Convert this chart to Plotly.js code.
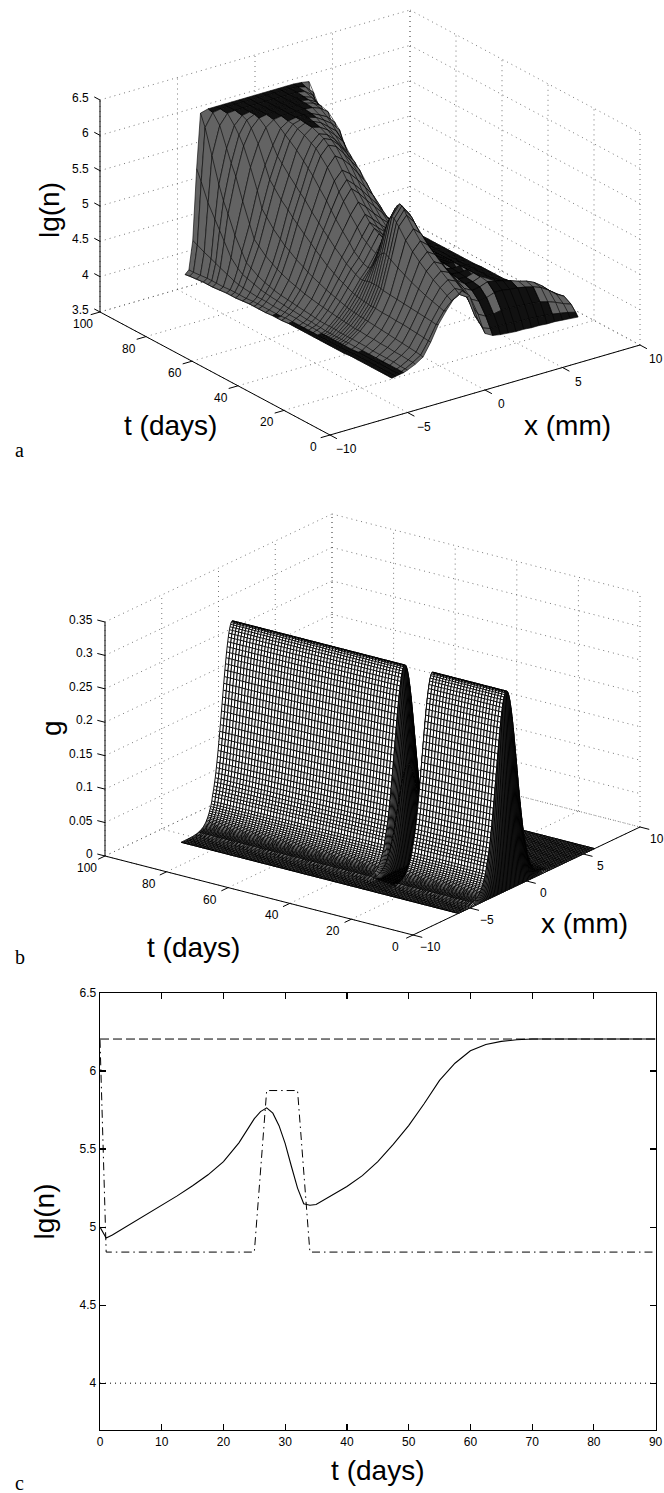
<!DOCTYPE html>
<html><head><meta charset="utf-8"><script src="https://cdn.plot.ly/plotly-3.0.0.min.js"></script></head>
<body style="margin:0;background:#fff"><div id="g" style="width:664px;height:1493px"></div>
<script>
// ---------- panel a data (lg n x 100, rows = t, columns = x) ----------
var xA=[-6,-5.75,-5.5,-5.25,-5,-4.5,-4,-3.5,-3,-2.5,-2,-1.5,-1,-.5,0,.5,1,1.5,2,2.5,3,3.5,4,4.5,5,5.5,6];
var tA=[0,1,3,6,9,12,15,18,21,24,25,26,27,28,29,30,31,32,33,34,36,38,40,42,45,48,50,52,55,58,60,62,65,68,70,72,75,78,80,82,85,88,90];
var lgnA=[
[405,406,407,408,410,415,422,440,462,478,492,500,490,455,430,424,422,421,420,420,419,419,418,418,417,416,415],
[405,406,407,408,410,416,423,440,460,476,487,493,486,456,436,432,432,432,431,430,430,429,428,427,425,423,420],
[405,406,407,408,410,416,424,441,461,478,491,498,492,470,452,446,446,448,448,447,446,445,444,441,437,432,428],
[405,406,407,408,411,417,425,442,462,481,497,505,500,484,468,462,464,468,468,466,465,463,460,456,449,440,434],
[405,406,407,408,411,417,426,443,463,484,503,512,507,492,478,472,474,478,476,473,470,466,463,458,450,440,432],
[405,406,407,408,411,418,427,444,464,488,510,520,514,498,484,476,476,480,474,468,462,456,450,444,437,430,424],
[405,406,407,408,411,418,428,444,465,492,518,529,522,505,488,478,477,480,470,458,450,444,438,433,428,424,420],
[405,406,407,408,412,419,429,445,466,497,527,539,530,512,492,480,478,480,466,450,440,434,430,426,423,420,418],
[404,405,406,408,412,419,430,445,467,502,538,551,541,520,497,482,479,480,462,444,434,428,425,423,420,418,416],
[404,405,406,408,412,420,431,446,468,508,552,565,552,528,500,484,480,480,458,438,430,425,422,420,418,416,415],
[404,405,406,408,412,420,431,446,469,510,556,571,557,531,502,485,480,480,456,436,428,424,421,419,417,416,415],
[404,405,406,408,412,420,432,446,470,512,560,575,560,533,503,485,480,480,455,435,427,423,421,419,417,416,415],
[404,405,406,408,412,420,432,446,470,513,561,576,561,533,503,485,480,480,454,434,426,423,420,419,417,416,415],
[404,405,406,408,412,421,432,447,470,510,556,572,557,529,500,484,480,480,453,433,426,422,420,418,417,416,415],
[404,405,406,408,412,421,433,447,470,506,548,566,550,523,497,483,480,480,452,432,425,422,420,418,416,415,415],
[404,405,406,408,412,421,433,448,470,500,538,557,541,515,493,481,479,480,451,431,425,422,420,418,416,415,414],
[404,405,406,408,413,422,434,448,469,493,524,543,528,505,488,479,478,480,450,430,424,421,419,417,416,415,414],
[404,405,406,408,413,422,434,449,468,486,510,526,512,495,482,476,476,480,449,430,424,421,419,417,415,414,413],
[404,405,406,408,413,423,435,450,467,481,500,516,504,489,478,474,475,480,448,429,423,420,418,417,415,414,413],
[404,405,406,408,413,423,436,451,467,480,497,515,502,488,477,473,474,480,447,429,423,420,418,416,415,414,413],
[404,405,407,409,413,424,438,454,470,482,500,518,505,491,480,475,476,480,446,428,422,420,418,416,415,414,413],
[404,405,407,409,413,425,440,457,474,487,505,522,511,499,488,482,479,480,446,428,422,420,418,416,415,414,413],
[404,405,407,410,414,426,442,460,478,492,510,527,517,507,497,489,483,480,445,428,422,420,418,416,415,414,413],
[404,405,407,410,415,427,444,464,484,501,520,535,525,514,504,495,486,480,445,428,422,420,418,416,415,414,413],
[404,405,408,411,416,429,448,470,492,512,532,547,537,525,514,504,492,481,445,427,422,419,417,416,414,413,412],
[403,405,408,412,417,431,452,478,502,524,546,561,551,538,526,514,500,482,445,427,422,419,417,416,414,413,412],
[403,404,408,412,418,433,455,483,508,533,556,570,560,548,535,522,505,483,445,427,422,419,417,416,414,413,412],
[403,404,408,413,419,435,459,489,515,543,568,580,572,560,546,532,512,485,445,427,422,419,417,416,414,413,412],
[402,404,408,414,420,438,464,497,525,555,582,595,587,575,560,545,520,487,446,427,421,419,417,415,414,413,412],
[402,404,409,415,422,442,471,506,537,568,593,605,600,587,572,558,530,488,447,427,421,418,416,415,414,413,412],
[402,404,409,416,424,445,475,512,543,575,600,611,606,595,580,565,535,490,448,427,421,418,416,415,414,413,412],
[402,404,409,417,426,449,481,519,550,582,604,614,610,600,586,572,543,496,449,427,421,418,416,415,414,413,412],
[401,403,410,420,430,455,490,528,560,592,610,618,615,608,597,585,555,505,452,428,421,418,416,415,414,413,412],
[400,403,411,423,436,464,502,540,571,600,614,619,618,613,604,595,575,530,460,429,421,418,416,415,414,413,412],
[400,403,412,425,440,470,510,548,578,605,617,620,620,617,610,602,590,550,470,430,421,418,416,415,414,413,412],
[400,403,414,430,452,488,532,565,590,611,618,620,620,619,614,608,597,558,478,432,421,418,416,415,414,413,412],
[399,402,418,440,470,515,560,590,610,618,620,620,620,620,619,615,607,570,490,435,421,418,416,415,414,413,412],
[398,402,422,458,495,545,585,607,618,620,620,620,620,620,620,617,610,582,512,438,422,418,416,415,414,413,412],
[398,402,425,470,510,560,597,615,620,620,620,620,620,620,620,618,612,590,530,440,422,418,416,415,414,413,412],
[398,402,428,482,530,578,607,618,620,620,620,620,620,620,620,619,615,600,556,455,423,418,416,415,414,413,412],
[397,401,432,500,565,605,619,620,620,620,620,620,620,620,620,620,618,610,585,480,425,419,417,415,414,413,412],
[396,400,437,525,600,618,620,620,620,620,620,620,620,620,620,620,619,616,605,508,428,420,417,415,414,413,412],
[395,400,440,540,617,620,620,620,620,620,620,620,620,620,620,620,620,619,617,520,430,420,417,415,414,413,412]];

// ---------- panel b data: ridge profile by distance from ridge line, and on/off by day ----------
var ridgeCentreB=-1.5;
var distB=[0,.05,.1,.15,.2,.25,.3,.35,.4,.45,.5,.55,.6,.65,.7,.75,.8,.85,.9,.95,1,1.05,1.1,1.15,1.2,1.25,1.3,1.35,1.4,1.45,1.5,1.55,1.6,1.65,1.7,1.75,1.8,1.85,1.9,1.95,2,2.05,2.1,2.15,2.2,2.25,2.3,2.35,2.4,2.45,2.5,2.55,2.6,2.65,2.7,2.75,2.8,2.85,2.9,2.95,3,3.1,3.2,3.3,3.4,3.5,3.6,3.7,3.8,3.9,4,4.1,4.2,4.3,4.4,4.5,4.6,4.7,4.8,4.9,5,5.1,5.2,5.3,5.4,5.5,5.6,5.7,5.8,5.9,6,6.1,6.2,6.3,6.4,6.5,6.6,6.7,6.8,6.9,7,7.1,7.2,7.3,7.4,7.5];
var gProfile=[2950,2945,2932,2909,2877,2837,2789,2733,2669,2599,2524,2442,2356,2266,2172,2075,1977,1878,1778,1678,1579,1481,1385,1291,1199,1111,1026,944,867,793,723,665,610,558,510,465,400,360,325,295,265,238,213,190,170,152,135,120,107,95,84,75,66,59,52,46,41,36,32,28,25,19,14,11,8,6,4,3,2,2,1,1,0,0,0,0,0,0,0,0,0,0,0,0,0,0,0,0,0,0,0,0,0,0,0,0,0,0,0,0,0,0,0,0,0,0];
var gOnByDay=[0,1,1,1,1,1,1,1,1,1,1,1,1,1,1,1,1,1,1,1,1,1,1,1,1,1,.5,0,0,0,0,0,0,.5,1,1,1,1,1,1,1,1,1,1,1,1,1,1,1,1,1,1,1,1,1,1,1,1,1,1,1,1,1,1,1,1,1,1,1,1,1,1,1,1,1,1,1,1,1,1,1,1,1,1,1,1,1,1,1,1,1];

// ---------- panel c data ----------
var tC=[0,1,2,5,7.5,10,12.5,15,17.5,20,22.5,25,26,27,28,29,30,31,32,33,34,35,37.5,40,42.5,45,47.5,50,52.5,55,57.5,60,62.5,65,67.5,70,90];
var lgnC=[5,4.93,4.95,5.02,5.08,5.14,5.2,5.265,5.335,5.42,5.54,5.695,5.74,5.764,5.73,5.65,5.535,5.39,5.25,5.15,5.14,5.145,5.2,5.26,5.33,5.42,5.53,5.65,5.79,5.94,6.05,6.13,6.17,6.19,6.2,6.205,6.205];
var tCrit=[0,1,25,27,32,34,90];
var lgnCrit=[6.2,4.84,4.84,5.875,5.875,4.84,4.84];
var tLevels=[0,90];
var lgnTop=[6.205,6.205];
var lgnBottom=[4,4];
var tickTC=[0,10,20,30,40,50,60,70,80,90];
var tickLgnC=[4,4.5,5,5.5,6,6.5];

// ---------- shared 3D axis ticks ----------
var xTicks3=[-10,-5,0,5,10];
var xTickText=['\u221210','\u22125','0','5','10'];
var tTicks3=[0,20,40,60,80,100];
var zTicksA=[3.5,4,4.5,5,5.5,6,6.5];
var zTickTextA=['3.5','4','4.5','5','5.5','6','6.5'];
var zTicksB=[0,.05,.1,.15,.2,.25,.3,.35];
var zTickTextB=['0','0.05','0.1','0.15','0.2','0.25','0.3','0.35'];

// ---------- oblique projections of the two 3D boxes on the page ----------
var viewA={fx:330,fy:435,ax:310,ay:-90,bx:-230,by:-123,cy:-212,z0:3.5,z1:6.5};
var viewB={fx:413,fy:935,ax:227,ay:-108,bx:-308,by:-79,cy:-234,z0:0,z1:.35};
function P(v,x,t,z){
  var u=(x+10)/20,w=t/100,h=(z-v.z0)/(v.z1-v.z0);
  return [v.fx+u*v.ax+w*v.bx, v.fy+u*v.ay+w*v.by+h*v.cy];
}
var traces=[],ann=[];
function lineTrace(xs,ys,o){traces.push({type:'scatter',mode:'lines',x:xs,y:ys,hoverinfo:'skip',showlegend:false,
  line:{color:o.color||'#000',width:o.width||1,dash:o.dash||'solid',simplify:false},xaxis:'x',yaxis:'y'});}
function seg3(v,pairs,o){var X=[],Y=[];pairs.forEach(function(p){var a=P(v,p[0],p[1],p[2]),b=P(v,p[3],p[4],p[5]);X.push(a[0],b[0],null);Y.push(a[1],b[1],null);});lineTrace(X,Y,o);}
function label(x,y,text,o){o=o||{};ann.push({xref:'x',yref:'y',x:x,y:y,text:text,showarrow:false,xanchor:o.anchor||'center',yanchor:'middle',textangle:o.angle||0,
  font:{family:o.family||'"Liberation Sans",Arial,sans-serif',size:o.size||12,color:'#000'}});}

function frame(v,zTicks,zText,offs){
  var pairs=[],z0=v.z0,z1=v.z1;
  xTicks3.forEach(function(x){pairs.push([x,0,z0,x,100,z0]);pairs.push([x,100,z0,x,100,z1]);});
  tTicks3.forEach(function(t){pairs.push([-10,t,z0,10,t,z0]);pairs.push([10,t,z0,10,t,z1]);});
  zTicks.forEach(function(z){pairs.push([-10,100,z,10,100,z]);pairs.push([10,100,z,10,0,z]);});
  seg3(v,pairs,{color:'#555',width:.8,dash:'1px,4px'});
  seg3(v,[[-10,100,z0,-10,100,z1],[-10,100,z0,-10,0,z0],[-10,0,z0,10,0,z0]],{width:1});
  var tk=[];
  xTicks3.forEach(function(x){tk.push([x,0,z0,x,-3,z0]);});
  tTicks3.forEach(function(t){tk.push([-10,t,z0,-10.6,t,z0]);});
  zTicks.forEach(function(z){tk.push([-10,100,z,-10,102.5,z]);});
  seg3(v,tk,{width:1});
  xTicks3.forEach(function(x,i){var p=P(v,x,0,z0);label(p[0]+offs.x[0],p[1]+offs.x[1],xTickText[i]);});
  tTicks3.forEach(function(t){var p=P(v,-10,t,z0);label(p[0]+offs.t[0],p[1]+offs.t[1],String(t));});
  zTicks.forEach(function(z,i){var p=P(v,-10,100,z);label(p[0]+offs.z,p[1]-2,zText[i],{anchor:'right'});});
}

// painter's drawing of a mesh, far rows first; every strip is one row pair
function mesh(v,xs,ts,Z,toneOf,lw){
  for(var j=ts.length-2;j>=0;j--){
    var i=0;
    while(i<xs.length-1){
      var tone=toneOf(i,j),k=i;
      while(k<xs.length-1&&toneOf(k,j)===tone)k++;
      var X=[],Y=[],m,p;
      for(m=i;m<=k;m++){p=P(v,xs[m],ts[j+1],Z[j+1][m]);X.push(p[0]);Y.push(p[1]);}
      for(m=k;m>=i;m--){p=P(v,xs[m],ts[j],Z[j][m]);X.push(p[0]);Y.push(p[1]);}
      p=P(v,xs[i],ts[j+1],Z[j+1][i]);X.push(p[0]);Y.push(p[1]);
      traces.push({type:'scatter',mode:'lines',x:X,y:Y,fill:'toself',fillcolor:tone,hoverinfo:'skip',showlegend:false,
        line:{color:'#000',width:lw,simplify:false},xaxis:'x',yaxis:'y'});
      i=k;
    }
    var CX=[],CY=[];
    for(var c=0;c<xs.length;c++){
      var a=P(v,xs[c],ts[j+1],Z[j+1][c]),b=P(v,xs[c],ts[j],Z[j][c]);
      CX.push(a[0],b[0],null);CY.push(a[1],b[1],null);
    }
    lineTrace(CX,CY,{width:lw});
  }
}

// ---- panel a ----
frame(viewA,zTicksA,zTickTextA,{x:[16,14],t:[-17,12],z:-9});
var ZA=lgnA.map(function(r){return r.map(function(q){return q/100;});});
mesh(viewA,xA,tA,ZA,function(i,j){
  var s=(Math.abs(ZA[j][i+1]-ZA[j][i])+Math.abs(ZA[j+1][i+1]-ZA[j+1][i]))/2/(xA[i+1]-xA[i]);
  return s<.05?'#111111':'#636363';
},.6);
label(170,425,'t (days)',{size:28});label(567.5,425,'x (mm)',{size:28});
label(49,210,'lg(n)',{size:28,angle:-90});
label(19,450,'a',{size:20,family:'"Liberation Serif",serif'});

// ---- panel b ----
frame(viewB,zTicksB,zTickTextB,{x:[17,12],t:[-18,12],z:-10});
var xB=[],pB=[];
for(var d=distB.length-1;d>=0;d--){if(ridgeCentreB-distB[d]>=-6){xB.push(ridgeCentreB-distB[d]);pB.push(gProfile[d]/1e4);}}
for(d=1;d<distB.length;d++){xB.push(ridgeCentreB+distB[d]);pB.push(gProfile[d]/1e4);}
var tB=gOnByDay.map(function(q,i){return i;});
var ZB=gOnByDay.map(function(f){return pB.map(function(q){return q*f;});});
mesh(viewB,xB,tB,ZB,function(){return '#ffffff';},.95);
label(193,947,'t (days)',{size:28});label(584.5,923,'x (mm)',{size:28});
label(51,728,'g',{size:28,angle:-90});
label(20,957,'b',{size:20,family:'"Liberation Serif",serif'});

// ---- panel c ----
function cTrace(x,y,dash,w){traces.push({type:'scatter',mode:'lines',x:x,y:y,xaxis:'x2',yaxis:'y2',hoverinfo:'skip',showlegend:false,line:{color:'#000',width:w||1,dash:dash}});}
cTrace(tLevels,lgnBottom,'1px,4px',1);
cTrace(tLevels,lgnTop,'9px,4px',1);
cTrace(tCrit,lgnCrit,'8px,4px,1.5px,4px',1);
cTrace(tC,lgnC,'solid',1.1);
label(19,1483,'c',{size:20,family:'"Liberation Serif",serif'});

Plotly.newPlot('g',traces,{
  width:664,height:1493,margin:{l:0,r:0,t:0,b:0},paper_bgcolor:'#fff',plot_bgcolor:'rgba(0,0,0,0)',showlegend:false,
  xaxis:{domain:[0,1],range:[0,664],visible:false,fixedrange:true},
  yaxis:{domain:[0,1],range:[1493,0],visible:false,fixedrange:true},
  xaxis2:{domain:[100/664,655.6/664],range:[0,90],anchor:'y2',tickvals:tickTC,ticks:'inside',ticklen:6,tickwidth:1.2,tickcolor:'#000',
    showline:true,linecolor:'#000',linewidth:1.3,mirror:'ticks',showgrid:false,zeroline:false,
    tickfont:{family:'"Liberation Sans",Arial,sans-serif',size:12,color:'#000'},
    title:{text:'t (days)',font:{family:'"Liberation Sans",Arial,sans-serif',size:28,color:'#000'},standoff:12}},
  yaxis2:{domain:[(1493-1430)/1493,(1493-993)/1493],range:[3.7,6.5],anchor:'x2',tickvals:tickLgnC,ticks:'inside',ticklen:6,tickwidth:1.2,tickcolor:'#000',
    showline:true,linecolor:'#000',linewidth:1.3,mirror:'ticks',showgrid:false,zeroline:false,
    tickfont:{family:'"Liberation Sans",Arial,sans-serif',size:12,color:'#000'},
    title:{text:'lg(n)',font:{family:'"Liberation Sans",Arial,sans-serif',size:28,color:'#000'},standoff:16}},
  annotations:ann
},{staticPlot:true});
</script></body></html>
